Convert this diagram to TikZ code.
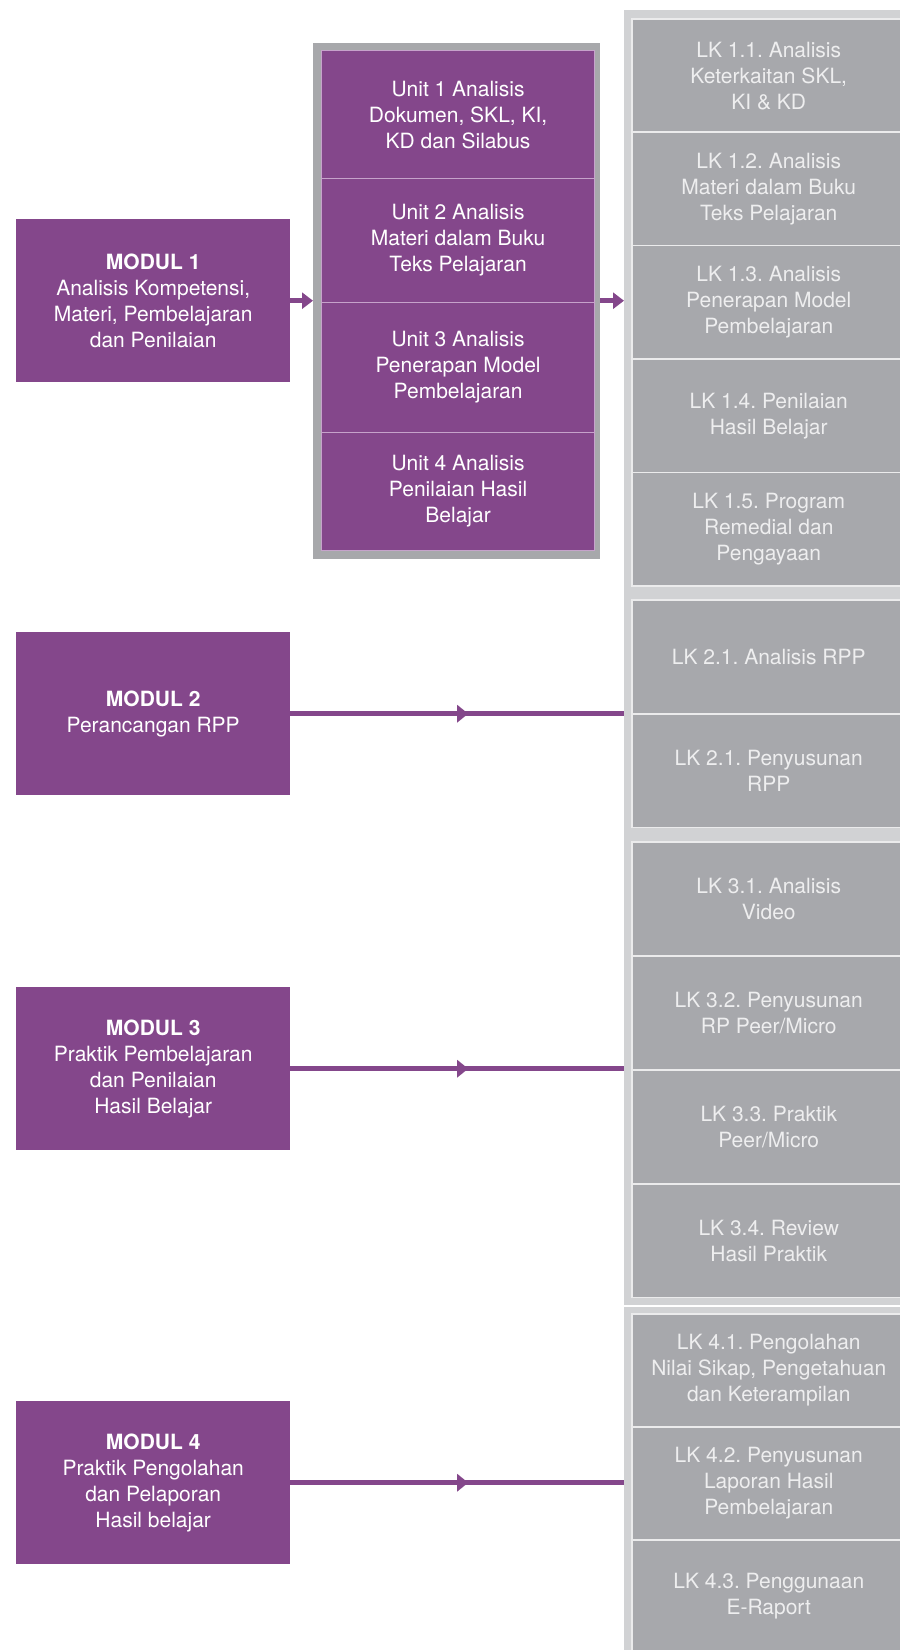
\documentclass[tikz,border=0pt]{standalone}
\usepackage{fontspec}
\setmainfont{TeX Gyre Heros}
\usetikzlibrary{arrows.meta,decorations.markings}
\frenchspacing

\definecolor{modpurple}{HTML}{84478B}
\definecolor{unitline}{HTML}{C6A3CB}
\definecolor{framegrey}{HTML}{A7A8AB}
\definecolor{lkgrey}{HTML}{A7A8AC}
\definecolor{panelgrey}{HTML}{D1D2D4}
\definecolor{lkline}{HTML}{EBEBEC}
\definecolor{lktext}{HTML}{EEEEEF}

\begin{document}
\begin{tikzpicture}[x=1pt,y=-1pt,
  txt/.style={font=\fontsize{21}{26}\selectfont, align=center, inner sep=0pt},
  modbox/.style={txt, fill=modpurple, text=white, minimum width=274pt,
    minimum height=163pt, anchor=north west},
  unitcell/.style={txt, fill=modpurple, draw=unitline, line width=1.2pt,
    text=white, minimum width=273pt, anchor=north west},
  panel/.style={fill=panelgrey, inner sep=0pt, minimum width=290pt, anchor=north west},
  lkbox/.style={txt, fill=lkgrey, draw=lkline, line width=1.5pt, text=lktext,
    minimum width=274pt, minimum height=113.7pt, anchor=north west},
  conn/.style={draw=modpurple, line width=5pt},
  shortarrow/.style={conn, -{Triangle[length=11pt,width=16pt]}},
  midarrow/.style={postaction={decorate}, decoration={markings,
    mark=at position 0.533 with {\arrow[modpurple]{Triangle[length=11pt,width=17pt]}}}}
]
\path[use as bounding box] (0,0) rectangle (900,1650);
\clip (0,0) rectangle (900,1650);
\fill[white] (0,0) rectangle (900,1650);

% grey column behind the worksheets
\node[panel, minimum height=1295pt] (colA) at (624,10) {};
\node[panel, minimum height=360pt] (colB) at (624,1306.5) {};

% worksheets of module 1
\node[lkbox] (lk11) at (631,18)    {LK 1.1. Analisis\\Keterkaitan SKL,\\KI \& KD};
\node[lkbox] (lk12) at (631,131.4) {LK 1.2. Analisis\\Materi dalam Buku\\Teks Pelajaran};
\node[lkbox] (lk13) at (631,244.8) {LK 1.3. Analisis\\Penerapan Model\\Pembelajaran};
\node[lkbox] (lk14) at (631,358.2) {LK 1.4. Penilaian\\Hasil Belajar};
\node[lkbox] (lk15) at (631,471.6) {LK 1.5. Program\\Remedial dan\\Pengayaan};

% worksheets of module 2
\node[lkbox] (lk21) at (631,599) {LK 2.1. Analisis RPP};
\node[lkbox] (lk22) at (631,713) {LK 2.1. Penyusunan\\RPP};

% worksheets of module 3
\node[lkbox] (lk31) at (631,841)  {LK 3.1. Analisis\\Video};
\node[lkbox] (lk32) at (631,955)  {LK 3.2. Penyusunan\\RP Peer/Micro};
\node[lkbox] (lk33) at (631,1069) {LK 3.3. Praktik\\Peer/Micro};
\node[lkbox] (lk34) at (631,1183) {LK 3.4. Review\\Hasil Praktik};

% worksheets of module 4
\node[lkbox] (lk41) at (631,1313) {LK 4.1. Pengolahan\\Nilai Sikap, Pengetahuan\\dan Keterampilan};
\node[lkbox] (lk42) at (631,1426) {LK 4.2. Penyusunan\\Laporan Hasil\\Pembelajaran};
\node[lkbox] (lk43) at (631,1539) {LK 4.3. Penggunaan\\E-Raport};

% units of module 1 in a grey frame
\node[fill=framegrey, inner sep=0pt, minimum width=287pt, minimum height=516pt,
  anchor=north west] (ufr) at (313,43) {};
\node[unitcell, minimum height=128pt] (u1) at (321,50)  {Unit 1 Analisis\\Dokumen, SKL, KI,\\KD dan Silabus};
\node[unitcell, minimum height=124pt] (u2) at (321,178) {Unit 2 Analisis\\Materi dalam Buku\\Teks Pelajaran};
\node[unitcell, minimum height=130pt] (u3) at (321,302) {Unit 3 Analisis\\Penerapan Model\\Pembelajaran};
\node[unitcell, minimum height=118pt] (u4) at (321,432) {Unit 4 Analisis\\Penilaian Hasil\\Belajar};

% modules
\node[modbox] (m1) at (16,219)  {\textbf{MODUL 1}\\Analisis Kompetensi,\\Materi, Pembelajaran\\dan Penilaian};
\node[modbox] (m2) at (16,632)  {\textbf{MODUL 2}\\Perancangan RPP};
\node[modbox] (m3) at (16,987)  {\textbf{MODUL 3}\\Praktik Pembelajaran\\dan Penilaian\\Hasil Belajar};
\node[modbox] (m4) at (16,1401) {\textbf{MODUL 4}\\Praktik Pengolahan\\dan Pelaporan\\Hasil belajar};

% connectors
\draw[shortarrow] (m1.east) -- (m1.east -| ufr.west);
\draw[shortarrow] (m1.east -| ufr.east) -- (m1.east -| colA.west);
\draw[conn, midarrow] (m2.east) -- (m2.east -| colA.west);
\draw[conn, midarrow] (m3.east) -- (m3.east -| colA.west);
\draw[conn, midarrow] (m4.east) -- (m4.east -| colB.west);
\end{tikzpicture}
\end{document}
